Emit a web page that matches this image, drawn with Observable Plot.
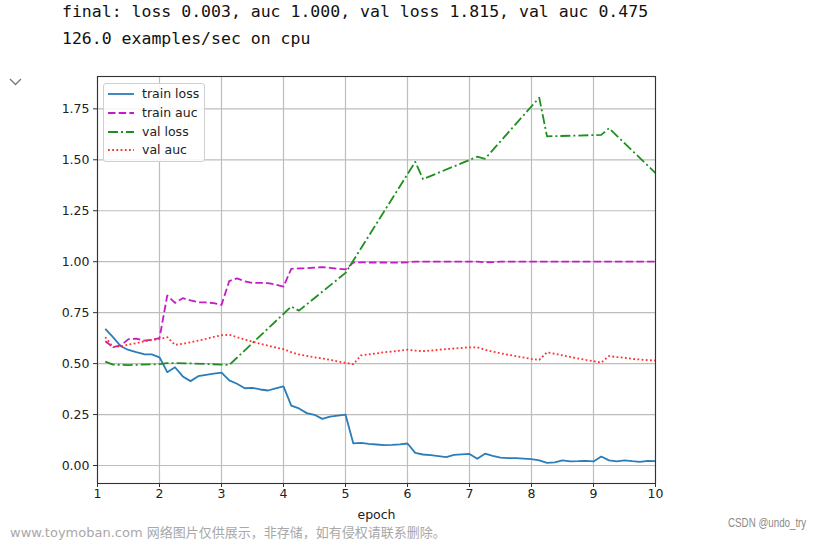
<!DOCTYPE html>
<html><head><meta charset="utf-8">
<script src="https://cdn.jsdelivr.net/npm/d3@7"></script>
<script src="https://cdn.jsdelivr.net/npm/@observablehq/plot@0.6"></script>
<style>
body{margin:0;background:#fff;}
#wrap{position:relative;width:822px;height:540px;overflow:hidden;font-family:"DejaVu Sans",sans-serif;background:#fff;}
.hdr{position:absolute;left:62px;font-family:"DejaVu Sans Mono",monospace;font-size:16.5px;line-height:20px;color:#111;white-space:pre;}
#chart{position:absolute;left:0;top:60px;}
#legend{position:absolute;left:103px;top:83px;width:100px;height:77px;border:1px solid #d0d0d0;border-radius:3px;background:rgba(255,255,255,0.85);font-size:12.5px;color:#222;}
.row{position:absolute;left:0;height:18px;width:100px;}
.row svg{position:absolute;left:3px;top:4px;}
.row span{position:absolute;left:38px;top:0;line-height:18px;white-space:pre;}
.wm{position:absolute;font-size:13px;white-space:pre;}
</style>
</head><body>
<div id="wrap">
  <div class="hdr" style="top:2px">final: loss 0.003, auc 1.000, val loss 1.815, val auc 0.475</div>
  <div class="hdr" style="top:29px">126.0 examples/sec on cpu</div>
  <svg style="position:absolute;left:8px;top:76px" width="16" height="12"><polyline points="2,3 7.5,8.5 13,3" fill="none" stroke="#777" stroke-width="1.3"/></svg>
  <div id="chart"></div>
  <div id="legend"></div>
  <div class="wm" style="left:10px;top:522px;color:#a8a8a8;font-family:'DejaVu Sans','Noto Sans CJK SC',sans-serif;">www.toymoban.com <span style="font-family:'Noto Sans CJK SC',sans-serif">网络图片仅供展示，非存储，如有侵权请联系删除。</span></div>
  <div class="wm" style="right:16px;top:516px;color:#8a8a8a;font-family:'Liberation Sans',sans-serif;font-size:12.5px;transform:scaleX(0.78);transform-origin:right center;">CSDN @undo_try</div>
</div>
<script>
// x positions of the logged points (epoch + batch fraction)
const epochs = [1.125,1.25,1.375,1.5,1.625,1.75,1.875,2,
  2.125,2.25,2.375,2.5,2.625,2.75,2.875,3,
  3.125,3.25,3.375,3.5,3.625,3.75,3.875,4,
  4.125,4.25,4.375,4.5,4.625,4.75,4.875,5,
  5.125,5.25,5.375,5.5,5.625,5.75,5.875,6,
  6.125,6.25,6.375,6.5,6.625,6.75,6.875,7,
  7.125,7.25,7.375,7.5,7.625,7.75,7.875,8,
  8.125,8.25,8.375,8.5,8.625,8.75,8.875,9,
  9.125,9.25,9.375,9.5,9.625,9.75,9.875,10];

const trainLoss = [0.67,0.63,0.585,0.567,0.556,0.546,0.545,0.531,
  0.458,0.482,0.437,0.414,0.438,0.445,0.451,0.456,
  0.418,0.401,0.379,0.381,0.373,0.368,0.379,0.388,
  0.294,0.280,0.257,0.249,0.229,0.240,0.245,0.250,
  0.109,0.111,0.106,0.103,0.100,0.101,0.104,0.108,
  0.062,0.054,0.051,0.046,0.041,0.052,0.055,0.057,
  0.033,0.058,0.047,0.039,0.036,0.036,0.034,0.031,
  0.025,0.013,0.015,0.025,0.020,0.021,0.023,0.020,
  0.044,0.025,0.020,0.025,0.021,0.018,0.023,0.021];

const trainAuc = [0.61,0.581,0.589,0.62,0.623,0.613,0.617,0.625,
  0.834,0.798,0.821,0.81,0.801,0.8,0.797,0.788,
  0.905,0.918,0.904,0.896,0.896,0.895,0.887,0.878,
  0.965,0.967,0.968,0.971,0.973,0.970,0.965,0.962,
  0.996,0.997,0.996,0.996,0.996,0.995,0.996,0.997,
  1.0,1.0,1.0,1.0,1.0,1.0,1.0,1.0,
  1.0,0.997,0.998,1.0,1.0,1.0,1.0,1.0,
  1.0,1.0,1.0,1.0,1.0,1.0,1.0,1.0,
  1.0,1.0,1.0,1.0,1.0,1.0,1.0,1.0];

const valAuc = [0.63,0.581,0.585,0.593,0.600,0.609,0.616,0.620,
  0.630,0.592,0.597,0.605,0.613,0.621,0.631,0.639,
  0.641,0.630,0.618,0.608,0.597,0.588,0.579,0.571,
  0.556,0.545,0.538,0.531,0.525,0.519,0.510,0.504,
  0.497,0.540,0.545,0.550,0.556,0.559,0.564,0.568,
  0.564,0.561,0.564,0.568,0.571,0.574,0.577,0.580,
  0.580,0.568,0.559,0.551,0.543,0.537,0.530,0.523,
  0.518,0.556,0.548,0.540,0.533,0.525,0.518,0.512,
  0.505,0.537,0.532,0.529,0.523,0.520,0.517,0.515];

// val loss: vertices of its polyline
const valLossEpochs = [1.125,1.25,1.5,2,2.125,2.25,2.5,3,3.125,4.125,4.25,5,6.125,6.25,7.125,7.25,8.125,8.25,9.125,9.25,10];
const valLoss = [0.510,0.495,0.493,0.497,0.502,0.503,0.501,0.495,0.493,0.780,0.760,0.945,1.490,1.405,1.515,1.505,1.805,1.615,1.622,1.655,1.435];

const xTicks = [1,2,3,4,5,6,7,8,9,10];
const yTicks = [0,0.25,0.5,0.75,1.0,1.25,1.5,1.75];
const seriesNames = ["train loss","train auc","val loss","val auc"];
const seriesColors = ["#2a7db8","#c41cc4","#1f8f1f","#ff3030"];
const seriesDash = [null,"7.5,3.2","10,3,2,3","1.8,2.4"];

const rows = [];
epochs.forEach((e,i)=>{
  rows.push({epoch:e, value:trainLoss[i], series:seriesNames[0]});
  rows.push({epoch:e, value:trainAuc[i], series:seriesNames[1]});
  rows.push({epoch:e, value:valAuc[i], series:seriesNames[3]});
});
valLossEpochs.forEach((e,i)=>rows.push({epoch:e, value:valLoss[i], series:seriesNames[2]}));

const lineMarks = seriesNames.map((name,i)=>Plot.line(rows.filter(d=>d.series===name), {
  x:"epoch", y:"value", stroke: seriesColors[i], strokeWidth:1.8,
  strokeDasharray: seriesDash[i] || undefined, strokeLinecap:"butt", strokeLinejoin:"round"
}));

const chart = Plot.plot({
  width:822, height:480,
  marginLeft:97, marginRight:167, marginTop:16, marginBottom:57,
  style:{fontFamily:"'DejaVu Sans',sans-serif", fontSize:"12.5px", color:"#222", background:"transparent"},
  x:{domain:[1,10], label:null},
  y:{domain:[-0.0883,1.9087], label:null},
  marks:[
    Plot.gridX(xTicks,{stroke:"#bdbdbd", strokeOpacity:1, strokeWidth:1.2}),
    Plot.gridY(yTicks,{stroke:"#bdbdbd", strokeOpacity:1, strokeWidth:1.2}),
    ...lineMarks,
    Plot.frame({stroke:"#333", strokeWidth:1.1}),
    Plot.axisX(xTicks,{tickSize:4, tickPadding:2, tickFormat:d=>String(d), label:null, stroke:"#333"}),
    Plot.axisY(yTicks,{tickSize:4, tickPadding:4, tickFormat:d3.format(".2f"), label:null, stroke:"#333"}),
    Plot.text(["epoch"],{frameAnchor:"bottom", dy:31, lineAnchor:"middle", fill:"#222", fontSize:12.5})
  ]
});
document.getElementById("chart").appendChild(chart);

// legend
const leg = document.getElementById("legend");
const rowTops = [1,19.5,38.5,57];
seriesNames.forEach((name,i)=>{
  const r = document.createElement("div");
  r.className="row"; r.style.top = rowTops[i]+"px";
  const dash = seriesDash[i] ? `stroke-dasharray="${seriesDash[i]}"` : "";
  r.innerHTML = `<svg width="28" height="10"><line x1="1" y1="5" x2="27" y2="5" stroke="${seriesColors[i]}" stroke-width="1.8" ${dash}/></svg><span>${name}</span>`;
  leg.appendChild(r);
});
</script>
</body></html>
